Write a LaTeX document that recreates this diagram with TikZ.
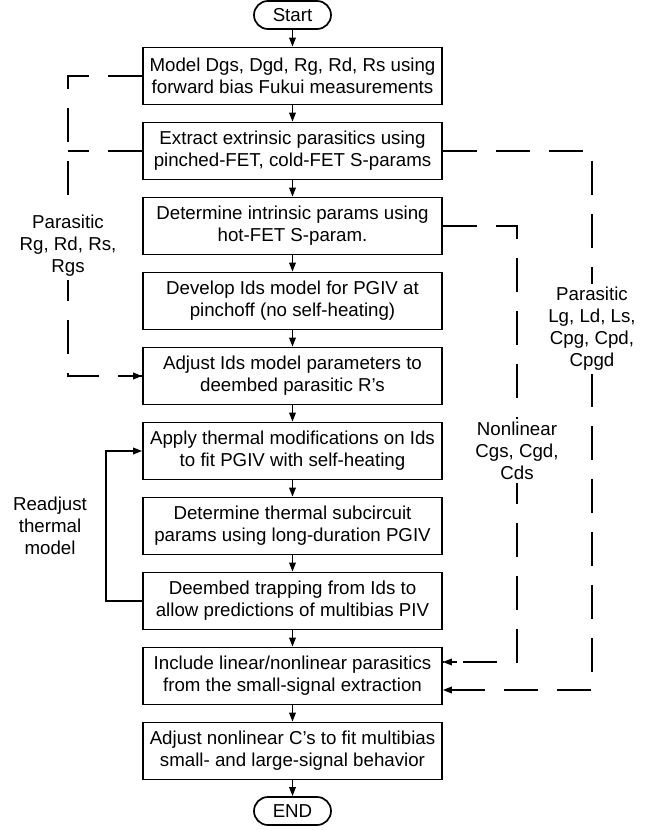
\documentclass[tikz,border=0pt]{standalone}
\usepackage{fontspec}
\setmainfont{Liberation Sans}
\usetikzlibrary{arrows.meta}
\begin{document}
\begin{tikzpicture}[x=1pt,y=-1pt,
  txt/.style={font=\fontsize{18.7}{22}\selectfont},
  box/.style={txt,draw,line width=1.7pt,minimum width=299pt,minimum height=57pt,align=center,inner sep=0pt},
  term/.style={txt,draw,line width=1.7pt,rounded corners=14pt,minimum width=77pt,minimum height=28pt,inner sep=0pt},
  tip/.style={-{Triangle[length=9pt,width=6.5pt]}},
  flow/.style={line width=1.7pt,tip},
  dashline/.style={line width=1.7pt,dash pattern=on 34pt off 19pt},
  lbl/.style={txt,align=center,fill=white,inner sep=3pt}
]
\useasboundingbox (0,0) rectangle (647,830);

\node[term] (start) at (292.5,15) {Start};
\node[box] (b1) at (292.5,76) {Model Dgs, Dgd, Rg, Rd, Rs using\\forward bias Fukui measurements};
\node[box] (b2) at (292.5,151) {Extract extrinsic parasitics using\\pinched-FET, cold-FET S-params};
\node[box] (b3) at (292.5,226) {Determine intrinsic params using\\hot-FET S-param.};
\node[box] (b4) at (292.5,301) {Develop Ids model for PGIV at\\pinchoff (no self-heating)};
\node[box] (b5) at (292.5,376) {Adjust Ids model parameters to\\deembed parasitic R’s};
\node[box] (b6) at (292.5,451) {Apply thermal modifications on Ids\\to fit PGIV with self-heating};
\node[box] (b7) at (292.5,526) {Determine thermal subcircuit\\params using long-duration PGIV};
\node[box] (b8) at (292.5,601) {Deembed trapping from Ids to\\allow predictions of multibias PIV};
\node[box] (b9) at (292.5,676) {Include linear/nonlinear parasitics\\from the small-signal extraction};
\node[box] (b10) at (292.5,751) {Adjust nonlinear C’s to fit multibias\\small- and large-signal behavior};
\node[term] (end) at (292.5,811) {END};

\foreach \a/\b in {start/b1,b1/b2,b2/b3,b3/b4,b4/b5,b5/b6,b6/b7,b7/b8,b8/b9,b9/b10,b10/end}
  \draw[flow] (\a) -- (\b);

% left dashed feedback
\coordinate (lt) at (68,76);
\coordinate (lm) at (68,151);
\coordinate (lb) at (68,376);
\draw[dashline] (b1.west) -- (lt) -- (lb) -- (b5.west);
\draw[line width=1.7pt,tip] ([xshift=-12pt]b5.west) -- (b5.west);
\draw[dashline] (b2.west) -- (lm);

% right outer dashed
\coordinate (r1) at (592,151);
\coordinate (r2) at (592,690);
\draw[dashline] (b2.east) -- (r1) -- (r2) -- (b9.east |- r2);
\draw[line width=1.7pt,tip] ([xshift=14pt]b9.east |- r2) -- (b9.east |- r2);

% right inner dashed
\coordinate (n1) at (517,226);
\coordinate (n2) at (517,662);
\draw[dashline] (b3.east) -- (n1) -- (n2) -- (b9.east |- n2);
\draw[line width=1.7pt,tip] ([xshift=14pt]b9.east |- n2) -- (b9.east |- n2);

% thermal loop
\coordinate (t1) at (106,601);
\coordinate (t2) at (106,451);
\draw[flow] (b8.west) -- (t1) -- (t2) -- (b6.west);

% labels
\node[lbl] (lp) at (68,246) {Parasitic\\Rg, Rd, Rs,\\Rgs};
\node[lbl] (rp) at (592,329) {Parasitic\\Lg, Ld, Ls,\\Cpg, Cpd,\\Cpgd};
\node[lbl] (nl) at (517,451) {Nonlinear\\Cgs, Cgd,\\Cds};
\node[txt,align=center] (rt) at (50,526) {Readjust\\thermal\\model};
\end{tikzpicture}
\end{document}
